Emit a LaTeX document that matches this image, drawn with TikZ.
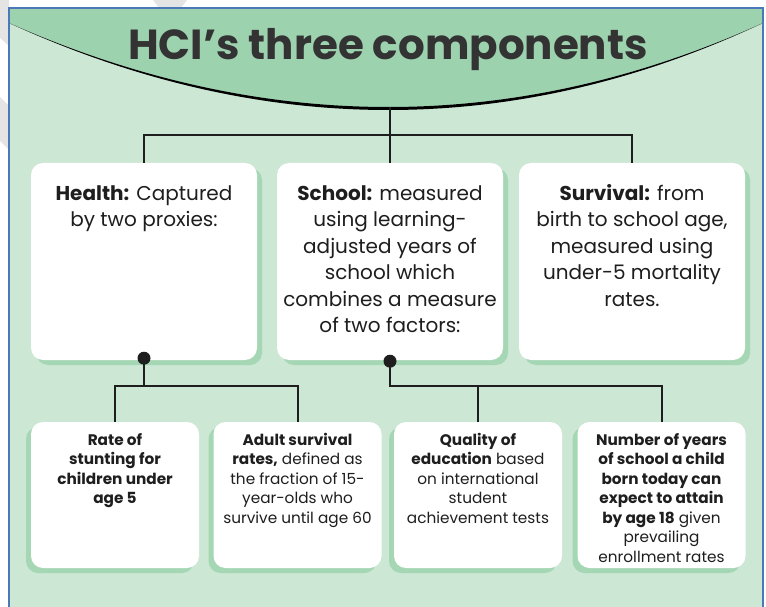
\documentclass[tikz,border=0pt]{standalone}
\usepackage{fontspec}
\setmainfont{Poppins}
\usetikzlibrary{shadows}
\definecolor{bglight}{HTML}{CDE7D5}
\definecolor{bgdark}{HTML}{9DD2AF}
\definecolor{shgreen}{HTML}{A5D7B4}
\definecolor{frameblue}{HTML}{4A78B8}
\definecolor{ink}{HTML}{1E1E1E}
\definecolor{titleink}{HTML}{333333}
\definecolor{wmgray}{HTML}{E4E4E4}
\begin{document}
\begin{tikzpicture}[x=1pt,y=-1pt,
  topbox/.style={fill=white, rounded corners=12pt, inner sep=0pt,
    minimum width=226pt, minimum height=197pt,
    drop shadow={shadow xshift=5pt, shadow yshift=-5pt, fill=shgreen, opacity=1}},
  botbox/.style={fill=white, rounded corners=12pt, inner sep=0pt,
    minimum width=168pt, minimum height=146pt,
    drop shadow={shadow xshift=-5pt, shadow yshift=-5pt, fill=shgreen, opacity=1}},
  toptext/.style={anchor=north, align=center, inner sep=0pt, text=ink,
    font=\fontsize{20}{26.5}\selectfont},
  bottext/.style={anchor=north, align=center, inner sep=0pt, text=ink,
    font=\fontsize{15.3}{19.5}\selectfont},
  conn/.style={draw=ink, line width=2pt},
  dotmark/.style={circle, fill=ink, inner sep=0pt, minimum size=13pt}
]
\useasboundingbox (0,0) rectangle (766,607);
% watermark traces in the margin
\fill[wmgray] (0,0) -- (9,0) -- (9,46) -- (0,38) -- cycle;
\fill[wmgray] (0,97) -- (9,106) -- (9,150) -- (0,141) -- cycle;
\fill[wmgray] (153,0) -- (187,0) -- (181,8) -- (159,8) -- cycle;
% background
\fill[bglight] (9,8) rectangle (763,607);
\fill[bgdark] (9,8) -- (763,8) -- (763,23)
   .. controls (516,135) and (262,135) .. (9,23) -- cycle;
\fill[black] (9,23) .. controls (262,135) and (516,135) .. (763,23)
   .. controls (516,139) and (262,139) .. (9,23) -- cycle;
\draw[frameblue, line width=1.5pt] (9,607) -- (9,8) -- (763,8) -- (763,607);
% title
\node[anchor=base, inner sep=0pt, text=titleink,
  font=\fontsize{42}{50}\selectfont\bfseries] (title) at (388,60) {HCI’s three components};
\coordinate (arcbot) at (390,107);
% top boxes
\node[topbox] (health) at (144,261.5) {};
\node[topbox] (school) at (390,261.5) {};
\node[topbox] (survival) at (632,261.5) {};
\node[toptext] (healthT) at ([yshift=-18.5pt]health.north)
  {\strut\textbf{Health:} Captured\\by two proxies:};
\node[toptext] (schoolT) at ([yshift=-18.5pt]school.north)
  {\strut\textbf{School:} measured\\using learning-\\adjusted years of\\school which\\combines a measure\\of two factors:};
\node[toptext] (survivalT) at ([yshift=-18.5pt]survival.north)
  {\strut\textbf{Survival:} from\\birth to school age,\\measured using\\under-5 mortality\\rates.};
% bottom boxes
\node[botbox] (b1) at (115,495) {};
\node[botbox] (b2) at (297.5,495) {};
\node[botbox] (b3) at (478,495) {};
\node[botbox] (b4) at (661.5,495) {};
\node[bottext] (b1T) at ([yshift=-9.4pt]b1.north)
  {\strut\textbf{Rate of}\\\textbf{stunting for}\\\textbf{children under}\\\textbf{age 5}};
\node[bottext] (b2T) at ([yshift=-9.4pt]b2.north)
  {\strut\textbf{Adult survival}\\\textbf{rates,} defined as\\the fraction of 15-\\year-olds who\\survive until age 60};
\node[bottext] (b3T) at ([yshift=-9.4pt]b3.north)
  {\strut\textbf{Quality of}\\\textbf{education} based\\on international\\student\\achievement tests};
\node[bottext] (b4T) at ([yshift=-9.4pt]b4.north)
  {\strut\textbf{Number of years}\\\textbf{of school a child}\\\textbf{born today can}\\\textbf{expect to attain}\\\textbf{by age 18} given\\prevailing\\enrollment rates};
% connectors, top level
\coordinate (bus1) at (390,135);
\draw[conn] (arcbot) -- (bus1);
\draw[conn] (health.north) |- (bus1) -| (survival.north);
\draw[conn] (bus1) -- (school.north);
% health branch
\node[dotmark] (hdot) at ([yshift=2pt]health.south) {};
\coordinate (hbus) at (144,386);
\draw[conn] (hdot.center) -- (hbus);
\draw[conn] (b1.north) |- (hbus) -| (b2.north);
% school branch
\node[dotmark] (sdot) at ([yshift=-1pt]school.south) {};
\coordinate (sbus) at (390,386);
\draw[conn] (sdot.center) -- (sbus) -| (b4.north);
\draw[conn] (b3.north) -- (b3.north |- sbus);
\end{tikzpicture}
\end{document}
